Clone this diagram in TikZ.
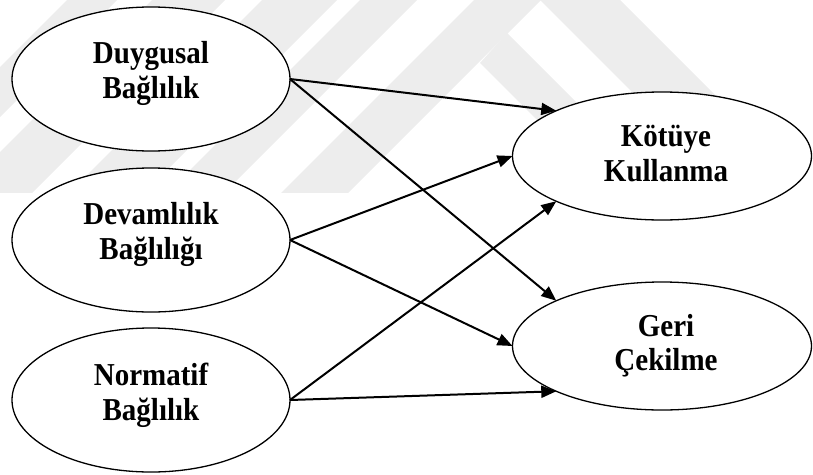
\documentclass[tikz,border=0pt]{standalone}
\usepackage{fontspec}
\setmainfont{Liberation Serif}
\usetikzlibrary{arrows.meta,shapes.geometric}

% slightly tall, heavy label lettering
\newcommand{\talltext}[1]{\scalebox{1}[1.1]{#1}}

\tikzset{
  factor/.style={draw=black, line width=1.3pt, fill=white, ellipse,
    inner sep=0pt, outer sep=0pt},
  leftfactor/.style={factor, minimum width=278pt, minimum height=144pt},
  rightfactor/.style={factor, minimum width=299pt, minimum height=128pt},
  lbl/.style={anchor=base, inner sep=0pt,
    font=\fontsize{29}{35}\selectfont\bfseries},
  link/.style={line width=2pt, -{Triangle[length=15pt,width=12pt]}},
  mark band/.style={fill=black!7, draw=none}
}

\begin{document}
\begin{tikzpicture}[x=1pt, y=-1pt]
  \useasboundingbox (0,0) rectangle (813,474);

  % faint background emblem: diagonal strokes cut off at a common base line
  \begin{scope}
    \clip (0,0) rectangle (813,192);
    \fill[mark band] (67,0) -- (117,0) -- (0,117) -- (0,67) -- cycle;
    \fill[mark band] (152,0) -- (225,0) -- (0,225) -- (0,152) -- cycle;
    \fill[mark band] (262,0) -- (337,0) -- (0,337) -- (0,262) -- cycle;
    \fill[mark band] (360,0) -- (417,0) -- (0,417) -- (0,360) -- cycle;
    \fill[mark band] (474,0) -- (541,0) -- (67,474) -- (0,474) -- cycle;
    \fill[mark band] (507,33) -- (480,63) -- (640,223) -- (667,193) -- cycle;
    \fill[mark band] (540,0) -- (620,0) -- (740,120) -- (660,120) -- cycle;
  \end{scope}

  % commitment dimensions
  \node[leftfactor] (duy) at (151,79)  {};
  \node[leftfactor] (dev) at (151,240) {};
  \node[leftfactor] (nor) at (151,400) {};

  % outcome variables
  \node[rightfactor] (kot) at (662,156) {};
  \node[rightfactor] (ger) at (662,346) {};

  % labels
  \node[lbl] (duy1) at (151,63.5)  {\talltext{Duygusal}};
  \node[lbl] (duy2) at (151,98.5)  {\talltext{Bağlılık}};
  \node[lbl] (dev1) at (151,224)   {\talltext{Devamlılık}};
  \node[lbl] (dev2) at (151,259)   {\talltext{Bağlılığı}};
  \node[lbl] (nor1) at (151,385)   {\talltext{Normatif}};
  \node[lbl] (nor2) at (151,420)   {\talltext{Bağlılık}};
  \node[lbl] (kot1) at (666,146.5) {\talltext{Kötüye}};
  \node[lbl] (kot2) at (666,181.5) {\talltext{Kullanma}};
  \node[lbl] (ger1) at (666,336.5) {\talltext{Geri}};
  \node[lbl] (ger2) at (666,370)   {\talltext{Çekilme}};

  % paths
  \draw[link] (duy.east) -- (kot.north west);
  \draw[link] (duy.east) -- (ger.north west);
  \draw[link] (dev.east) -- (kot.west);
  \draw[link] (dev.east) -- (ger.west);
  \draw[link] (nor.east) -- (kot.south west);
  \draw[link] (nor.east) -- (ger.south west);
\end{tikzpicture}
\end{document}
